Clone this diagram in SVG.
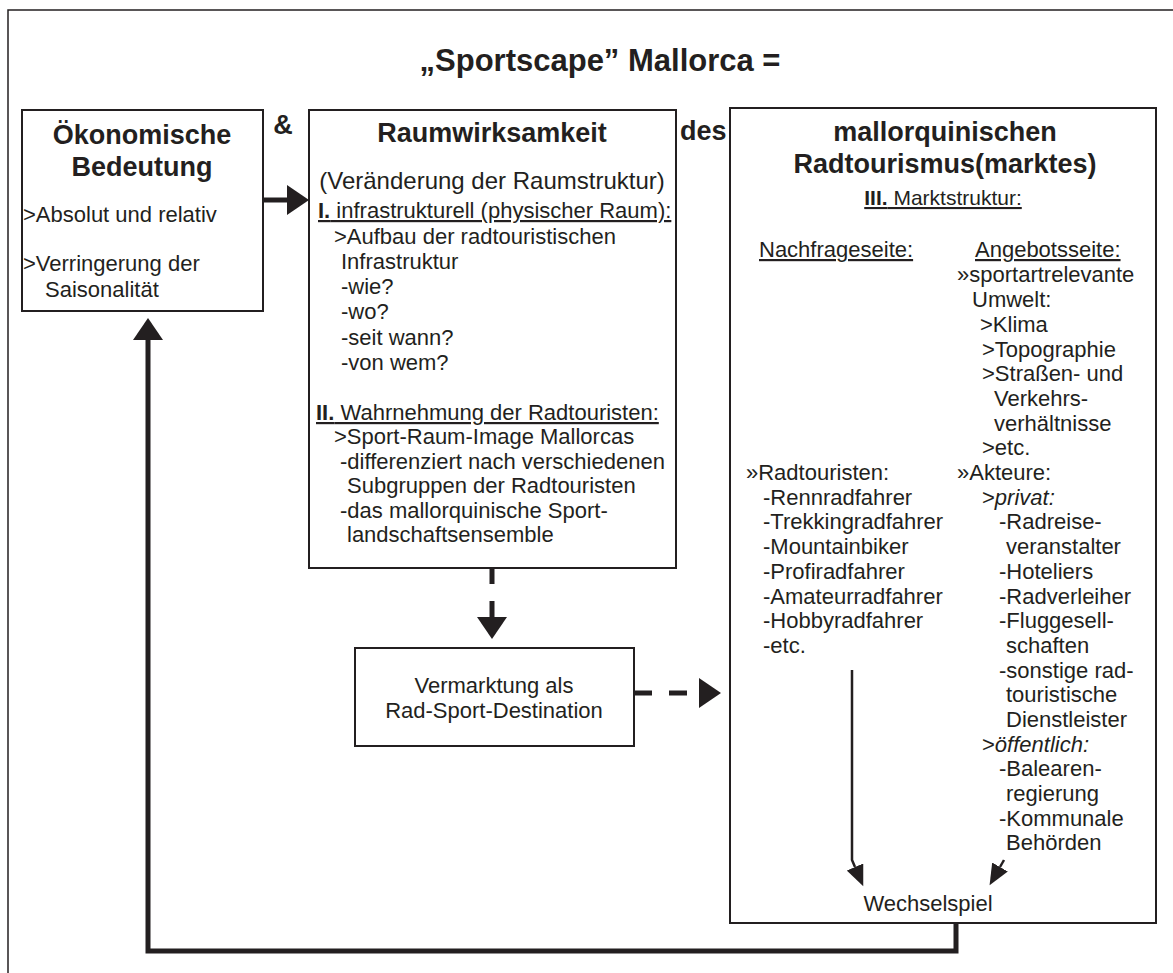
<svg xmlns="http://www.w3.org/2000/svg" width="1173" height="973" viewBox="0 0 1173 973">
  <style>
    text { font-family: "Liberation Sans", Arial, sans-serif; fill: #231f20; }
    .t { font-size: 22px; }
    .h { font-size: 27px; font-weight: bold; }
    .title { font-size: 31px; font-weight: bold; }
    .c { text-anchor: middle; }
    .u { text-decoration: underline; }
    .b { font-weight: bold; }
    .i { font-style: italic; }
    .box { fill: #ffffff; stroke: #231f20; stroke-width: 2; }
    .thick { fill: none; stroke: #231f20; stroke-width: 5; }
    .dash { fill: none; stroke: #231f20; stroke-width: 5; }
    .thin { fill: none; stroke: #231f20; stroke-width: 2.5; }
    .frame { fill: none; stroke: #231f20; stroke-width: 1.5; }
  </style>
  <defs>
    <marker id="head" markerUnits="userSpaceOnUse" markerWidth="30" markerHeight="30" refX="0" refY="15" orient="auto">
      <path d="M0,0 L22,15 L0,30 Z" fill="#231f20"/>
    </marker>
    <marker id="headS" markerUnits="userSpaceOnUse" markerWidth="24" markerHeight="18" refX="0" refY="9" orient="auto">
      <path d="M0,0 L21,9 L0,18 Z" fill="#231f20"/>
    </marker>
  </defs>

  <rect width="1173" height="973" fill="#ffffff"/>
  <!-- outer frame (open to the right and bottom) -->
  <path class="frame" d="M8,990 V10 H1190"/>

  <text class="title c" x="600" y="71">„Sportscape” Mallorca =</text>
  <text class="h c" x="283" y="134">&amp;</text>
  <text class="h" x="680" y="140">des</text>

  <g id="oekonomische-bedeutung">
    <rect class="box" x="22" y="110" width="241" height="201"/>
    <text class="h c" x="142" y="144">Ökonomische</text>
    <text class="h c" x="142" y="176">Bedeutung</text>
    <text class="t" x="23" y="222">&gt;Absolut und relativ</text>
    <text class="t" x="23" y="271">&gt;Verringerung der</text>
    <text class="t" x="45" y="297">Saisonalität</text>
  </g>

  <g id="raumwirksamkeit">
    <rect class="box" x="309" y="110" width="367" height="458"/>
    <text class="h c" x="492" y="142">Raumwirksamkeit</text>
    <text class="t c" x="492" y="189" style="font-size:24px">(Veränderung der Raumstruktur)</text>
    <text class="t u" x="318" y="218"><tspan class="b">I.</tspan> infrastrukturell (physischer Raum):</text>
    <text class="t" x="334" y="244">&gt;Aufbau der radtouristischen</text>
    <text class="t" x="341" y="269">Infrastruktur</text>
    <text class="t" x="341" y="294">-wie?</text>
    <text class="t" x="341" y="319">-wo?</text>
    <text class="t" x="341" y="345">-seit wann?</text>
    <text class="t" x="341" y="370">-von wem?</text>
    <text class="t u" x="316" y="420"><tspan class="b">II.</tspan> Wahrnehmung der Radtouristen:</text>
    <text class="t" x="334" y="444">&gt;Sport-Raum-Image Mallorcas</text>
    <text class="t" x="340" y="469">-differenziert nach verschiedenen</text>
    <text class="t" x="347" y="493">Subgruppen der Radtouristen</text>
    <text class="t" x="340" y="518">-das mallorquinische Sport-</text>
    <text class="t" x="347" y="542">landschaftsensemble</text>
  </g>

  <g id="vermarktung">
    <rect class="box" x="355" y="648" width="279" height="98"/>
    <text class="t c" x="494" y="693">Vermarktung als</text>
    <text class="t c" x="494" y="718">Rad-Sport-Destination</text>
  </g>

  <g id="radtourismus">
    <rect class="box" x="730" y="108" width="426" height="815"/>
    <text class="h c" x="945" y="141">mallorquinischen</text>
    <text class="h c" x="945" y="173">Radtourismus(marktes)</text>
    <text class="t c u" x="943" y="205" style="font-size:21px"><tspan class="b">III.</tspan> Marktstruktur:</text>
    <text class="t u" x="759" y="257">Nachfrageseite:</text>
    <text class="t u" x="975" y="257">Angebotsseite:</text>
    <text class="t" x="957" y="282">»sportartrelevante</text>
    <text class="t" x="972" y="307">Umwelt:</text>
    <text class="t" x="980" y="332">&gt;Klima</text>
    <text class="t" x="982" y="357">&gt;Topographie</text>
    <text class="t" x="982" y="381">&gt;Straßen- und</text>
    <text class="t" x="994" y="406">Verkehrs-</text>
    <text class="t" x="994" y="431">verhältnisse</text>
    <text class="t" x="982" y="455">&gt;etc.</text>

    <text class="t" x="746" y="480">»Radtouristen:</text>
    <text class="t" x="763" y="505">-Rennradfahrer</text>
    <text class="t" x="763" y="529">-Trekkingradfahrer</text>
    <text class="t" x="763" y="554">-Mountainbiker</text>
    <text class="t" x="763" y="579">-Profiradfahrer</text>
    <text class="t" x="763" y="604">-Amateurradfahrer</text>
    <text class="t" x="763" y="628">-Hobbyradfahrer</text>
    <text class="t" x="763" y="653">-etc.</text>

    <text class="t" x="957" y="480">»Akteure:</text>
    <text class="t" x="982" y="505">&gt;<tspan class="i">privat:</tspan></text>
    <text class="t" x="999" y="529">-Radreise-</text>
    <text class="t" x="1006" y="554">veranstalter</text>
    <text class="t" x="999" y="579">-Hoteliers</text>
    <text class="t" x="999" y="604">-Radverleiher</text>
    <text class="t" x="999" y="628">-Fluggesell-</text>
    <text class="t" x="1006" y="653">schaften</text>
    <text class="t" x="999" y="678">-sonstige rad-</text>
    <text class="t" x="1006" y="702">touristische</text>
    <text class="t" x="1006" y="727">Dienstleister</text>
    <text class="t" x="982" y="752">&gt;<tspan class="i">öffentlich:</tspan></text>
    <text class="t" x="999" y="776">-Balearen-</text>
    <text class="t" x="1006" y="801">regierung</text>
    <text class="t" x="999" y="826">-Kommunale</text>
    <text class="t" x="1006" y="850">Behörden</text>

    <text class="t c" x="928" y="911">Wechselspiel</text>
  </g>

  <g id="connectors">
    <!-- economic importance -> spatial impact -->
    <path class="thick" d="M263,200 H287" marker-end="url(#head)"/>
    <!-- spatial impact -> marketing (dashed) -->
    <path class="dash" d="M492,568 V617" stroke-dasharray="16 17" marker-end="url(#head)"/>
    <!-- marketing -> cycling tourism market (dashed) -->
    <path class="dash" d="M634,693 H699" stroke-dasharray="18 17" marker-end="url(#head)"/>
    <!-- feedback loop back to economic importance -->
    <path class="thick" d="M956,923 V951 H148 V340" stroke-linejoin="miter" marker-end="url(#head)"/>
    <!-- demand and supply sides meeting in the interplay -->
    <path class="thin" d="M852,670 V860 L855,867" marker-end="url(#headS)"/>
    <path class="thin" d="M1004,860 L1000,867" marker-end="url(#headS)"/>
  </g>
</svg>
